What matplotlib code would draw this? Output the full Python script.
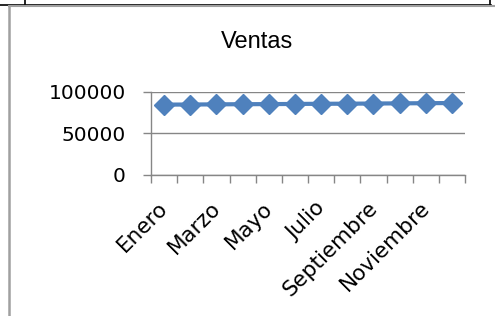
import matplotlib.pyplot as plt
from matplotlib.lines import Line2D
from matplotlib.transforms import ScaledTranslation

meses = ["Enero", "Febrero", "Marzo", "Abril", "Mayo", "Junio", "Julio",
         "Agosto", "Septiembre", "Octubre", "Noviembre", "Diciembre"]
ventas = [84500, 84600, 84800, 85000, 85100, 85300, 85500, 85600,
          85800, 86000, 86200, 86400]
y_ticks = [0, 50000, 100000]

fig = plt.figure(figsize=(4.95, 3.16), dpi=100)
ax = fig.add_axes([151 / 495, 1 - 175 / 316, (465 - 151) / 495, (175 - 91.7) / 316])

x = list(range(len(meses)))
ax.plot(x, ventas, color="#4F81BD", linewidth=3, marker="D", markersize=10.5,
        markeredgecolor="#4F81BD", markeredgewidth=1, zorder=3)

ax.set_xlim(-0.5, len(meses) - 0.5)
ax.set_ylim(0, 100000)
ax.set_yticks(y_ticks)
ax.set_yticklabels([str(v) for v in y_ticks], fontfamily="DejaVu Sans", fontsize=14.5)
ax.yaxis.grid(True, color="#868686", linewidth=1)
ax.set_axisbelow(True)

# ticks between categories, labels on every other category
ax.set_xticks([i - 0.5 for i in range(len(meses) + 1)])
ax.set_xticklabels([])
ax.set_xticks(x[::2], minor=True)
ax.set_xticklabels(meses[::2], minor=True, rotation=45, ha="right", va="top",
                   fontfamily="DejaVu Sans", fontsize=15.5)
ax.tick_params(axis="x", which="major", direction="out", length=6,
               color="#868686", width=1)
ax.tick_params(axis="x", which="minor", length=0, pad=16.5)
ax.tick_params(axis="y", direction="out", length=6, color="#868686", width=1, pad=12)
shift = ScaledTranslation(8 / 100, 0, fig.dpi_scale_trans)
for lab in ax.get_xticklabels(minor=True):
    lab.set_transform(lab.get_transform() + shift)

for s in ["top", "right"]:
    ax.spines[s].set_visible(False)
for s in ["left", "bottom"]:
    ax.spines[s].set_color("#868686")
    ax.spines[s].set_linewidth(1)

fig.text(257 / 495, 1 - 42 / 316, "Ventas", ha="center", va="center",
         fontfamily="Liberation Sans", fontsize=17)

# chart border and table lines of the sheet
W, H = 495, 316
fig.add_artist(Line2D([0, 491 / W], [1 - 4.5 / H] * 2, color="black", linewidth=1.2))
for xv in [25, 490]:
    fig.add_artist(Line2D([xv / W] * 2, [1, 1 - 4.5 / H], color="black", linewidth=1.2))
fig.add_artist(Line2D([8.5 / W, 1], [1 - 6 / H] * 2, color="#A0A0A0", linewidth=1.5))
fig.add_artist(Line2D([8.5 / W] * 2, [0, 1 - 6 / H], color="#A0A0A0", linewidth=1.8))

fig.savefig("out.png", dpi=100)
